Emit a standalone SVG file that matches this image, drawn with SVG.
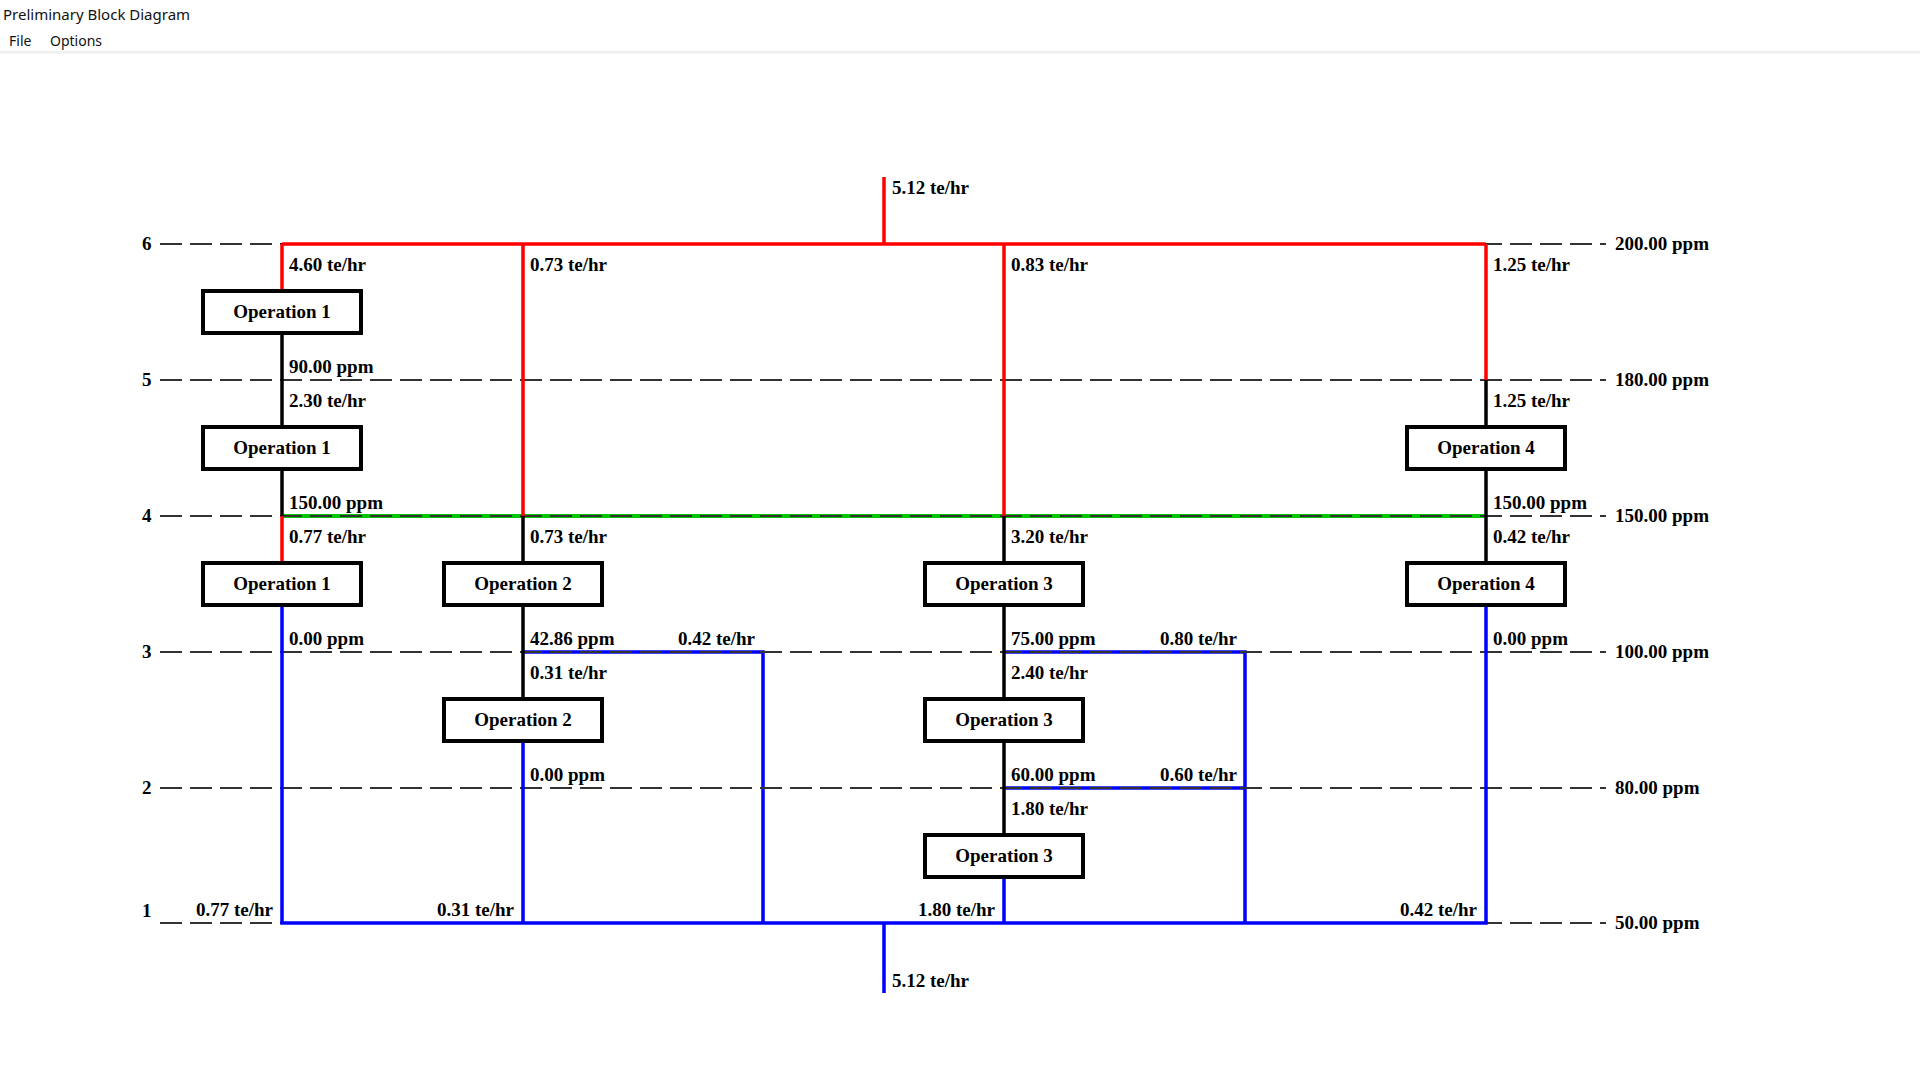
<svg xmlns="http://www.w3.org/2000/svg" width="1920" height="1080" viewBox="0 0 1920 1080">
<style>
.ui{font-family:"Noto Sans","Open Sans","DejaVu Sans",sans-serif;fill:#111}
.t{font-family:"Liberation Serif","Times New Roman",serif;font-weight:bold;font-size:19px;fill:#000}
.e{text-anchor:end}
.m{text-anchor:middle}
.lv{stroke:#333;stroke-width:2;stroke-dasharray:22 8;fill:none}
.red{stroke:#ff0000;stroke-width:3.5;fill:none}
.blu{stroke:#0000ff;stroke-width:3.5;fill:none}
.grn{stroke:#00c800;stroke-width:4;fill:none}
.blk{stroke:#000;stroke-width:3.5;fill:none}
.box{fill:#fff;stroke:#000;stroke-width:4}
</style>
<rect width="1920" height="1080" fill="#fff"/>
<g id="window-chrome">
<text class="ui" x="3" y="20" font-size="15">Preliminary Block Diagram</text>
<text class="ui" x="9" y="46" font-size="14">File</text>
<text class="ui" x="50" y="46" font-size="14">Options</text>
<rect x="0" y="51" width="1920" height="2.5" fill="#efefef"/>
</g>
<g id="connectors">
<line class="grn" x1="282" y1="516" x2="1486" y2="516"/>
<path class="blu" d="M523 652 H763 V923"/>
<path class="blu" d="M1004 652 H1245 V923"/>
<line class="blu" x1="1004" y1="788" x2="1245" y2="788"/>
<g id="levels">
<line class="lv" x1="160" y1="244" x2="1606" y2="244"/>
<line class="lv" x1="160" y1="380" x2="1606" y2="380"/>
<line class="lv" x1="160" y1="516" x2="1606" y2="516"/>
<line class="lv" x1="160" y1="652" x2="1606" y2="652"/>
<line class="lv" x1="160" y1="788" x2="1606" y2="788"/>
<line class="lv" x1="160" y1="923" x2="1606" y2="923"/>
</g>
<line class="red" x1="884" y1="177" x2="884" y2="244"/>
<line class="red" x1="282" y1="244" x2="1486" y2="244"/>
<line class="red" x1="282" y1="244" x2="282" y2="290"/>
<line class="red" x1="523" y1="244" x2="523" y2="516"/>
<line class="red" x1="1004" y1="244" x2="1004" y2="516"/>
<line class="red" x1="1486" y1="244" x2="1486" y2="380"/>
<line class="red" x1="282" y1="516" x2="282" y2="562"/>
<line class="blk" x1="282" y1="334" x2="282" y2="426"/>
<line class="blk" x1="282" y1="470" x2="282" y2="516"/>
<line class="blk" x1="523" y1="516" x2="523" y2="562"/>
<line class="blk" x1="523" y1="606" x2="523" y2="698"/>
<line class="blk" x1="1004" y1="516" x2="1004" y2="562"/>
<line class="blk" x1="1004" y1="606" x2="1004" y2="698"/>
<line class="blk" x1="1004" y1="742" x2="1004" y2="834"/>
<line class="blk" x1="1486" y1="380" x2="1486" y2="426"/>
<line class="blk" x1="1486" y1="470" x2="1486" y2="562"/>
<line class="blu" x1="282" y1="606" x2="282" y2="923"/>
<line class="blu" x1="523" y1="742" x2="523" y2="923"/>
<line class="blu" x1="1004" y1="878" x2="1004" y2="923"/>
<line class="blu" x1="1486" y1="606" x2="1486" y2="923"/>
<line class="blu" x1="280.25" y1="923" x2="1487.75" y2="923"/>
<line class="blu" x1="884" y1="923" x2="884" y2="993"/>
</g>
<g id="op1-a"><rect class="box" x="203" y="291" width="158" height="42"/><text class="t m" x="282" y="318">Operation 1</text></g>
<g id="op1-b"><rect class="box" x="203" y="427" width="158" height="42"/><text class="t m" x="282" y="454">Operation 1</text></g>
<g id="op1-c"><rect class="box" x="203" y="563" width="158" height="42"/><text class="t m" x="282" y="590">Operation 1</text></g>
<g id="op2-a"><rect class="box" x="444" y="563" width="158" height="42"/><text class="t m" x="523" y="590">Operation 2</text></g>
<g id="op2-b"><rect class="box" x="444" y="699" width="158" height="42"/><text class="t m" x="523" y="726">Operation 2</text></g>
<g id="op3-a"><rect class="box" x="925" y="563" width="158" height="42"/><text class="t m" x="1004" y="590">Operation 3</text></g>
<g id="op3-b"><rect class="box" x="925" y="699" width="158" height="42"/><text class="t m" x="1004" y="726">Operation 3</text></g>
<g id="op3-c"><rect class="box" x="925" y="835" width="158" height="42"/><text class="t m" x="1004" y="862">Operation 3</text></g>
<g id="op4-a"><rect class="box" x="1407" y="427" width="158" height="42"/><text class="t m" x="1486" y="454">Operation 4</text></g>
<g id="op4-b"><rect class="box" x="1407" y="563" width="158" height="42"/><text class="t m" x="1486" y="590">Operation 4</text></g>
<g id="level-labels">
<text class="t" x="142" y="250">6</text>
<text class="t" x="142" y="386">5</text>
<text class="t" x="142" y="522">4</text>
<text class="t" x="142" y="658">3</text>
<text class="t" x="142" y="794">2</text>
<text class="t" x="142" y="917">1</text>
<text class="t" x="1615" y="250">200.00 ppm</text>
<text class="t" x="1615" y="386">180.00 ppm</text>
<text class="t" x="1615" y="522">150.00 ppm</text>
<text class="t" x="1615" y="658">100.00 ppm</text>
<text class="t" x="1615" y="794">80.00 ppm</text>
<text class="t" x="1615" y="929">50.00 ppm</text>
</g>
<g id="stream-labels">
<text class="t" x="892" y="194">5.12 te/hr</text>
<text class="t" x="892" y="987">5.12 te/hr</text>
<text class="t" x="289" y="271">4.60 te/hr</text>
<text class="t" x="289" y="373">90.00 ppm</text>
<text class="t" x="289" y="407">2.30 te/hr</text>
<text class="t" x="289" y="509">150.00 ppm</text>
<text class="t" x="289" y="543">0.77 te/hr</text>
<text class="t" x="289" y="645">0.00 ppm</text>
<text class="t" x="530" y="271">0.73 te/hr</text>
<text class="t" x="530" y="543">0.73 te/hr</text>
<text class="t" x="530" y="645">42.86 ppm</text>
<text class="t" x="530" y="679">0.31 te/hr</text>
<text class="t" x="530" y="781">0.00 ppm</text>
<text class="t" x="1011" y="271">0.83 te/hr</text>
<text class="t" x="1011" y="543">3.20 te/hr</text>
<text class="t" x="1011" y="645">75.00 ppm</text>
<text class="t" x="1011" y="679">2.40 te/hr</text>
<text class="t" x="1011" y="781">60.00 ppm</text>
<text class="t" x="1011" y="815">1.80 te/hr</text>
<text class="t" x="1493" y="271">1.25 te/hr</text>
<text class="t" x="1493" y="407">1.25 te/hr</text>
<text class="t" x="1493" y="509">150.00 ppm</text>
<text class="t" x="1493" y="543">0.42 te/hr</text>
<text class="t" x="1493" y="645">0.00 ppm</text>
<text class="t e" x="755" y="645">0.42 te/hr</text>
<text class="t e" x="1237" y="645">0.80 te/hr</text>
<text class="t e" x="1237" y="781">0.60 te/hr</text>
<text class="t e" x="273" y="916">0.77 te/hr</text>
<text class="t e" x="514" y="916">0.31 te/hr</text>
<text class="t e" x="995" y="916">1.80 te/hr</text>
<text class="t e" x="1477" y="916">0.42 te/hr</text>
</g>
</svg>
